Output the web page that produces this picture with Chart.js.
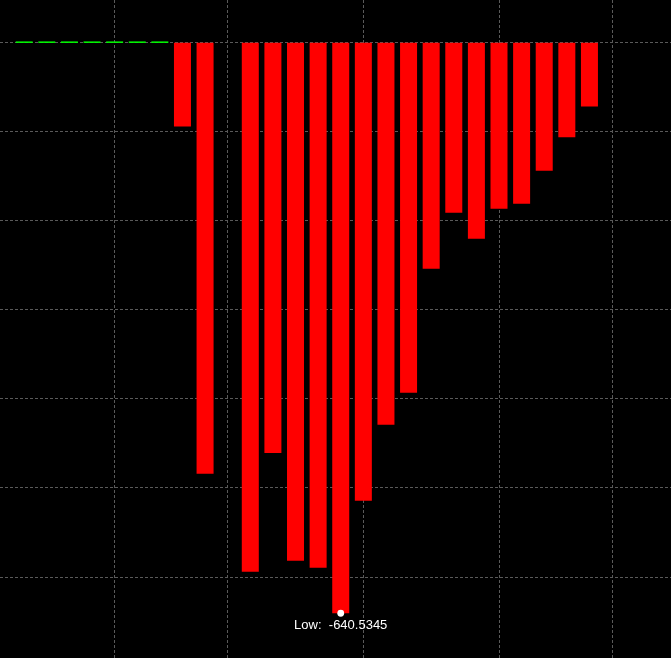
<!DOCTYPE html>
<html lang="en">
<head>
    <meta charset="UTF-8">
    <title>Daily P/L</title>
    <script src="https://cdn.jsdelivr.net/npm/chart.js"></script>
    <style>
        html, body { margin: 0; padding: 0; background: #000; }
        #wrap { width: 671px; height: 658px; }
    </style>
</head>
<body>
    <div id="wrap"><canvas id="chart" width="671" height="658"></canvas></div>
<script>

// categories (day numbers, not shown on the chart)
const days = ['1', '2', '3', '4', '5', '6', '7', '8', '9', '10',
              '11', '12', '13', '14', '15', '16', '17', '18', '19', '20',
              '21', '22', '23', '24', '25', '26', '27', '28', '29'];

// values, null = no bar
const pnl = [0, 0, 0, 0, 0, 0, 0, -94.7, -484.1, null,
             -594.1, -460.9, -581.7, -589.6, -640.5345, -514.4, -429.1, -393.2, -254.0, -191.2,
             -220.4, -186.7, -181.1, -144.1, -106.6, -72.2, null, null, null];

// days that get a vertical grid line
const markedDays = ['5', '10', '16', '22', '27'];

const gridColor = '#5a5a5a';

// draws the dot and "Low:" text under the lowest bar
const lowMarker = {
    id: 'lowMarker',
    afterDatasetsDraw(chart) {
        const data = chart.data.datasets[0].data;
        let low = 0, lowIdx = -1;
        data.forEach((v, i) => {
            if (v !== null && v < low) { low = v; lowIdx = i; }
        });
        if (lowIdx < 0) return;
        const bar = chart.getDatasetMeta(0).data[lowIdx];
        const ctx = chart.ctx;
        ctx.save();
        ctx.fillStyle = '#fff';
        ctx.beginPath();
        ctx.arc(bar.x, bar.y, 3.4, 0, Math.PI * 2);
        ctx.fill();
        ctx.font = '13px "Liberation Sans", Arial, sans-serif';
        ctx.textAlign = 'center';
        ctx.textBaseline = 'alphabetic';
        ctx.fillText('Low:  ' + low.toFixed(4), bar.x, bar.y + 16);
        ctx.restore();
    }
};

new Chart(document.getElementById('chart').getContext('2d'), {
    type: 'bar',
    data: {
        labels: days,
        datasets: [{
            label: 'P/L',
            data: pnl,
            backgroundColor: ctx => (ctx.raw >= 0 ? '#00ff00' : '#ff0000'),
            borderWidth: 0,
            minBarLength: 1.5,
            barPercentage: 0.752,
            categoryPercentage: 1.0
        }]
    },
    options: {
        responsive: false,
        animation: false,
        layout: { padding: 0 },
        plugins: {
            legend: { display: false },
            tooltip: { enabled: false }
        },
        scales: {
            x: {
                type: 'linear',
                min: -0.07,
                max: 29.607,
                offset: false,
                afterBuildTicks: scale => {
                    scale.ticks = markedDays.map(d => ({ value: Number(d) }));
                },
                grid: {
                    offset: false,
                    drawTicks: false,
                    color: gridColor,
                    lineWidth: 1
                },
                border: { display: false, dash: [3, 2] },
                ticks: { display: false }
            },
            y: {
                min: -690.7,
                max: 47.3,
                ticks: { display: false, stepSize: 100 },
                grid: {
                    drawTicks: false,
                    color: ctx => (ctx.tick && ctx.tick.value % 100 === 0 ? gridColor : 'rgba(0,0,0,0)'),
                    lineWidth: 1
                },
                border: { display: false, dash: [3, 2] }
            }
        }
    },
    plugins: [lowMarker]
});

</script>
</body>
</html>
